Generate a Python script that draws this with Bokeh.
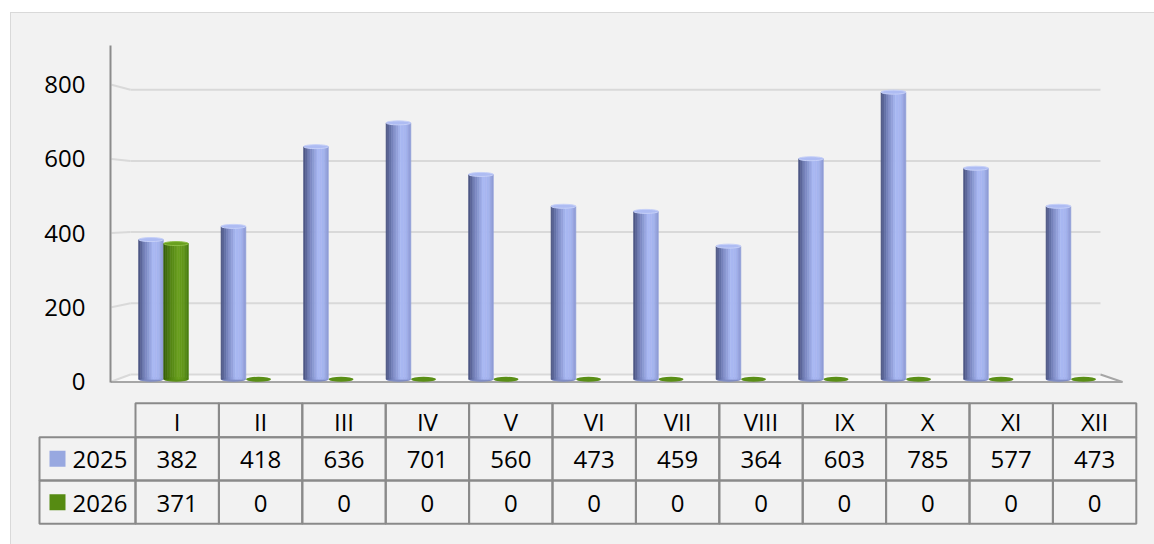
from bokeh.plotting import figure
from bokeh.models import Range1d, LinearAxis, FixedTicker, ColumnDataSource
from bokeh.layouts import column
from bokeh.embed import file_html
from bokeh.resources import INLINE
from bokeh.core.properties import value

# ---------------- data ----------------
months = ["I", "II", "III", "IV", "V", "VI", "VII", "VIII", "IX", "X", "XI", "XII"]
series_names = ["2025", "2026"]
values_2025 = [382, 418, 636, 701, 560, 473, 459, 364, 603, 785, 577, 473]
values_2026 = [371, 0, 0, 0, 0, 0, 0, 0, 0, 0, 0, 0]
y_ticks = [0, 200, 400, 600, 800]

# ---------------- style / layout ----------------
FONT = "Open Sans"
BG = "#f2f2f2"
GRID = "#d9d9d9"
EDGE = "#a6a6a6"
TABLE_LINE = "#8a8a8a"

CANVAS_X0, CANVAS_Y0 = 11, 13
W = 1143
CHART_H = 387
TABLE_H = 544 - CANVAS_Y0 - CHART_H
TAB_Y0 = CANVAS_Y0 + CHART_H
FRAME_L, FRAME_R, FRAME_T, FRAME_B = 110, 1125, 45, CANVAS_Y0 + CHART_H

X0_PX, CAT_PX = 121.75, 82.5          # chart x mapping
BAR0, BARK = 378.8, 0.3658            # bar plane
BACK0, BACKK = 374.0, 0.356           # back wall plane (gridlines)
FRONT0, FRONTK = 381.0, 0.371         # front plane (axis labels)


def ux(px):
    return (px - X0_PX) / CAT_PX


def uy(py):
    return (BAR0 - py) / BARK


def hex2rgb(h):
    h = h.lstrip("#")
    return tuple(int(h[i:i + 2], 16) for i in (0, 2, 4))


def grad(stops, f):
    for (p0, c0), (p1, c1) in zip(stops[:-1], stops[1:]):
        if p0 <= f <= p1:
            t = (f - p0) / (p1 - p0)
            a, b = hex2rgb(c0), hex2rgb(c1)
            return "#%02x%02x%02x" % tuple(round(a[i] + (b[i] - a[i]) * t) for i in range(3))
    return stops[-1][1]


BLUE_STOPS = [(0.0, "#46507a"), (0.22, "#6f7cb5"), (0.6, "#aab9f3"), (0.82, "#a5b3ee"), (1.0, "#8c99d3")]
GREEN_STOPS = [(0.0, "#355c0a"), (0.3, "#538513"), (0.6, "#6aa01f"), (0.85, "#5e9419"), (1.0, "#477810")]
series_styles = [
    dict(vals=values_2025, off=0.348, stops=BLUE_STOPS, cap="#aebcf3", capline="#c6d0f8", base="#7f8cc4", key="#98a8e0"),
    dict(vals=values_2026, off=0.652, stops=GREEN_STOPS, cap="#69a01e", capline="#8cbd45", base="#5a8f16", key="#568b12"),
]
BAR_W = 0.3
NSTRIP = 14

# ---------------- chart figure ----------------
p = figure(width=W, height=CHART_H,
           x_range=Range1d(ux(FRAME_L), ux(FRAME_R)),
           y_range=Range1d(uy(FRAME_B), uy(FRAME_T)),
           x_axis_type=None, y_axis_type=None,
           output_backend="svg", toolbar_location=None, frame_align=False,
           min_border_left=FRAME_L - CANVAS_X0, min_border_right=CANVAS_X0 + W - FRAME_R,
           min_border_top=FRAME_T - CANVAS_Y0, min_border_bottom=0,
           background_fill_color=BG, border_fill_color=BG, outline_line_color=None)

front_lo = (FRONT0 - FRAME_B) / FRONTK
front_hi = (FRONT0 - FRAME_T) / FRONTK
p.extra_y_ranges = {"front": Range1d(front_lo, front_hi)}
ax = LinearAxis(y_range_name="front", ticker=FixedTicker(ticks=y_ticks),
                bounds=(-2, front_hi),
                axis_line_color="#8c8c8c", axis_line_width=2,
                major_tick_line_color=None, minor_tick_line_color=None,
                major_tick_in=0, major_tick_out=0, major_label_standoff=25,
                major_label_text_font=FONT, major_label_text_font_size="24px",
                major_label_text_color="#000000")
p.add_layout(ax, "left")

# floor
fl_x = [ux(110), ux(1122), ux(1100), ux(130)]
fl_y = [uy(381.5), uy(381.5), uy(BACK0), uy(BACK0)]
p.patch(fl_x, fl_y, fill_color="#f8f8f8", line_color=None)

# gridlines (back wall + left wall kink)
gx0, gx1, gy0, gy1 = [], [], [], []
for v in y_ticks:
    yb = uy(BACK0 - BACKK * v)
    yf = uy(FRONT0 - FRONTK * v)
    gx0 += [ux(130), ux(111)]
    gx1 += [ux(1100), ux(130)]
    gy0 += [yb, yf]
    gy1 += [yb, yb]
p.segment(gx0, gy0, gx1, gy1, line_color=GRID, line_width=2)

# floor front + right edges
p.segment([ux(110), ux(1100)], [uy(381.5), uy(BACK0)], [ux(1122), ux(1122)], [uy(381.5), uy(381.5)],
          line_color=EDGE, line_width=2)

# cylinders
for st in series_styles:
    xs, tops, cols = [], [], []
    cx, cv = [], []
    for i, v in enumerate(st["vals"]):
        c = i + st["off"]
        cx.append(c)
        cv.append(v)
        if v > 0:
            for k in range(NSTRIP):
                f = (k + 0.5) / NSTRIP
                xs.append(c - BAR_W / 2 + f * BAR_W)
                tops.append(v)
                cols.append(grad(st["stops"], f))
    p.ellipse(x=cx, y=[0] * len(cx), width=BAR_W, height=5, height_units="screen",
              fill_color=st["base"], line_color=None)
    if xs:
        src = ColumnDataSource(dict(x=xs, top=tops, color=cols))
        p.vbar(x="x", top="top", bottom=0, width=BAR_W / NSTRIP, source=src,
               fill_color="color", line_color="color", line_width=0.6)
    nz_x = [x for x, v in zip(cx, cv) if v > 0]
    nz_v = [v for v in cv if v > 0]
    if nz_x:
        p.ellipse(x=nz_x, y=nz_v, width=BAR_W, height=4, height_units="screen",
                  fill_color=st["cap"], line_color=st["capline"], line_width=1)

# ---------------- data table figure ----------------
TAB_X0, COL_PX = 135.0, 83.4
ROW_EDGES = [y - TAB_Y0 for y in (402.7, 436.7, 480.0, 523.3)]   # px from top of table canvas
LABEL_L = (39 - TAB_X0) / COL_PX

t = figure(width=W, height=TABLE_H,
           x_range=Range1d((CANVAS_X0 - TAB_X0) / COL_PX, (CANVAS_X0 + W - TAB_X0) / COL_PX),
           y_range=Range1d(TABLE_H, 0),
           x_axis_type=None, y_axis_type=None,
           output_backend="svg", toolbar_location=None, frame_align=False,
           min_border_left=0, min_border_right=0, min_border_top=0, min_border_bottom=0,
           background_fill_color=BG, border_fill_color=BG, outline_line_color=None)

ql, qr, qt, qb = [], [], [], []
for i in range(len(months)):
    for r in range(3):
        ql.append(i)
        qr.append(i + 1)
        qt.append(ROW_EDGES[r])
        qb.append(ROW_EDGES[r + 1])
for r in (1, 2):
    ql.append(LABEL_L)
    qr.append(0)
    qt.append(ROW_EDGES[r])
    qb.append(ROW_EDGES[r + 1])
t.quad(left=ql, right=qr, top=qt, bottom=qb, fill_color=None, line_color=TABLE_LINE, line_width=2)

row_mid = [(ROW_EDGES[r] + ROW_EDGES[r + 1]) / 2 for r in range(3)]
tx, ty, tt = [], [], []
for i, m in enumerate(months):
    tx.append(i + 0.5)
    ty.append(row_mid[0] + 1)
    tt.append(m)
for r, st in zip((1, 2), series_styles):
    for i, v in enumerate(st["vals"]):
        tx.append(i + 0.5)
        ty.append(row_mid[r] + 1)
        tt.append(str(v))
t.text(x=tx, y=ty, text=tt, text_font=value(FONT), text_font_size="24px",
       text_color="#000000", text_align="center", text_baseline="middle")

key_x = (57 - TAB_X0) / COL_PX
t.rect(x=[key_x, key_x], y=[row_mid[1], row_mid[2]], width=16, height=16,
       width_units="screen", height_units="screen",
       fill_color=[s["key"] for s in series_styles], line_color=None)
t.text(x=[(72 - TAB_X0) / COL_PX] * 2, y=[row_mid[1] + 1, row_mid[2] + 1], text=series_names,
       text_font=value(FONT), text_font_size="24px", text_color="#000000",
       text_align="left", text_baseline="middle")

layout = column(p, t, spacing=0, margin=(12, 0, 0, 10),
                styles={"border-left": "1px solid #d9d9d9", "border-top": "1px solid #d9d9d9",
                        "background-color": BG})

open("out.html", "w").write(file_html(layout, INLINE))
